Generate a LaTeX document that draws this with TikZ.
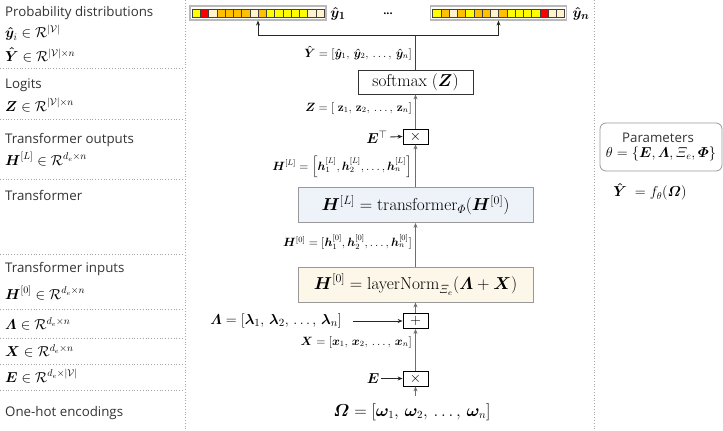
\documentclass[tikz,border=0pt]{standalone}
\usepackage{amsmath,amssymb}
\usepackage{bm}
\usepackage[no-math]{fontspec}
\setmainfont{Open Sans}
\usetikzlibrary{arrows.meta}
\definecolor{cy}{HTML}{FFFF00}
\definecolor{cr}{HTML}{FF0000}
\definecolor{cc}{HTML}{FFF2CC}
\definecolor{co}{HTML}{FFC000}
\definecolor{tbfill}{HTML}{EEF3F9}
\definecolor{lnfill}{HTML}{FDF7EA}
\definecolor{sepc}{HTML}{A6A6A6}
\definecolor{linec}{HTML}{6E6E6E}
\definecolor{txtc}{HTML}{333333}
\begin{document}
\begin{tikzpicture}[x=1pt,y=-1pt,
  lbl/.style={anchor=west, inner sep=0pt, text=txtc, font=\fontsize{13.3}{15}\selectfont},
  mlbl/.style={anchor=west, inner sep=0pt, font=\fontsize{14.5}{16}\selectfont},
  elbl/.style={anchor=east, inner sep=0pt, font=\fontsize{12}{14}\selectfont},
  sepline/.style={draw=sepc, dotted, line width=0.8pt},
  opbox/.style={draw=black, line width=0.8pt, minimum width=25pt, minimum height=15pt, inner sep=0pt, font=\fontsize{14}{14}\selectfont},
  bigbox/.style={draw=gray!80, line width=0.8pt, minimum width=235pt, minimum height=35pt, inner sep=0pt, font=\fontsize{16.5}{18}\selectfont},
  mainarr/.style={-{Stealth[length=5pt,width=4pt]}, line width=1.4pt, draw=linec},
  sidearr/.style={-{Stealth[length=5pt,width=4pt]}, line width=0.9pt, draw=black!85},
  barframe/.style={draw=gray!55, line width=1.2pt, fill=white, minimum width=136pt, minimum height=14pt, inner sep=0pt},
  cell/.style={draw=black!75, line width=0.5pt},
  bigm/.style={inner sep=0pt, font=\fontsize{16}{18}\selectfont}
]
\useasboundingbox (0,0) rectangle (723,431);
% separators
\draw[sepline] (185,0) -- (185,431);
\draw[sepline] (594,0) -- (594,431);
\foreach \yy in {68,119,179,254,309,338,364,390}
  \draw[sepline] (0,\yy) -- (183,\yy);
% left labels
\node[lbl] (l1) at (5,13) {Probability distributions};
\node[mlbl] (l2) at (5,33) {$\bm{\hat{y}}_i \in \mathcal{R}^{|\mathcal{V}|}$};
\node[mlbl] (l3) at (5,55) {$\bm{\hat{Y}} \in \mathcal{R}^{|\mathcal{V}|\times n}$};
\node[lbl] (l4) at (5,85) {Logits};
\node[mlbl] (l5) at (5,105) {$\bm{Z} \in \mathcal{R}^{|\mathcal{V}|\times n}$};
\node[lbl] (l6) at (5,140) {Transformer outputs};
\node[mlbl] (l7) at (5,159) {$\bm{H}^{[L]} \in \mathcal{R}^{d_e\times n}$};
\node[lbl] (l8) at (5,195) {Transformer};
\node[lbl] (l9) at (5,269) {Transformer inputs};
\node[mlbl] (l10) at (5,293) {$\bm{H}^{[0]} \in \mathcal{R}^{d_e\times n}$};
\node[mlbl] (l11) at (5,324) {$\bm{\varLambda} \in \mathcal{R}^{d_e\times n}$};
\node[mlbl] (l12) at (5,351) {$\bm{X} \in \mathcal{R}^{d_e\times n}$};
\node[mlbl] (l13) at (5,376) {$\bm{E} \in \mathcal{R}^{d_e\times |\mathcal{V}|}$};
\node[lbl] (l14) at (5,413) {One-hot encodings};
% probability bars
\node[barframe] (bar1) at (258,13) {};
\foreach \c [count=\i from 0] in {cy,cr,cc,co,co,co,co,cc,co,cy,cy,cy,cy,cy,cc,cc}
  \draw[cell, fill=\c] (192+\i*8.25,9) rectangle ++(8.25,8);
\node[barframe] (barn) at (498.5,13) {};
\foreach \c [count=\i from 0] in {cy,co,cc,co,cy,co,co,cc,co,cy,cy,cy,cy,cr,cc,cc}
  \draw[cell, fill=\c] (432.5+\i*8.25,9) rectangle ++(8.25,8);
\node[inner sep=0pt, font=\fontsize{15}{15}\selectfont] (y1) at (338,14) {$\bm{\hat{y}}_{\bm{1}}$};
\node[inner sep=0pt, font=\fontsize{15}{15}\selectfont] (yn) at (581,14) {$\bm{\hat{y}}_{\bm{n}}$};
\node[inner sep=0pt, font=\fontsize{11}{11}\selectfont\bfseries] (dots) at (388,14) {...};
% softmax
\node[draw=black!80, line width=0.8pt, minimum width=115pt, minimum height=24pt, inner sep=0pt, font=\fontsize{16.5}{18}\selectfont] (soft) at (415.5,82) {$\mathrm{softmax}\;(\bm{Z})$};
\coordinate (jn) at (415.5,35);
\draw[line width=1.4pt, draw=black!75] (soft.north) -- (jn);
\draw[sidearr] (jn) -| (bar1.south);
\draw[sidearr] (jn) -| (barn.south);
\node[elbl] (ylab) at (412,53) {$\bm{\hat{Y}} = [\bm{\hat{y}}_1,\, \bm{\hat{y}}_2,\, \ldots,\, \bm{\hat{y}}_n]$};
% upper times
\node[opbox] (tx1) at (415.5,136.5) {$\times$};
\draw[mainarr] (tx1.north) -- (soft.south);
\node[elbl] (zlab) at (412,108) {$\bm{Z} = [\;\mathbf{z}_1,\, \mathbf{z}_2,\, \ldots,\, \mathbf{z}_n]$};
\node[inner sep=0pt, font=\fontsize{15}{15}\selectfont] (et) at (377,137) {$\bm{E}^{\top}$};
\draw[sidearr] (et.east) ++(2pt,0) -- (tx1.west);
% transformer
\node[bigbox, fill=tbfill] (tr) at (415.5,205) {$\bm{H}^{[L]} = \mathrm{transformer}_{\varPhi}(\bm{H}^{[0]})$};
\draw[mainarr] (tr.north) -- (tx1.south);
\node[elbl] (hllab) at (412,167) {$\bm{H}^{[L]} = \left[\bm{h}_1^{[L]}, \bm{h}_2^{[L]}, \ldots, \bm{h}_n^{[L]}\right]$};
% layer norm
\node[bigbox, fill=lnfill] (ln) at (415.5,284.5) {$\bm{H}^{[0]} = \mathrm{layerNorm}_{\varXi_e}(\bm{\varLambda} + \bm{X})$};
\draw[mainarr] (ln.north) -- (tr.south);
\node[elbl] (h0lab) at (412,242) {$\bm{H}^{[0]} = [\bm{h}_1^{[0]}, \bm{h}_2^{[0]}, \ldots, \bm{h}_n^{[0]}]$};
% plus
\node[opbox] (pl) at (415.5,321) {$+$};
\draw[mainarr] (pl.north) -- (ln.south);
\node[inner sep=0pt, font=\fontsize{15}{17}\selectfont, anchor=east] (lam) at (342,321) {$\bm{\varLambda} = [\bm{\lambda}_1,\, \bm{\lambda}_2,\, \ldots,\, \bm{\lambda}_n]$};
\draw[sidearr] (lam.east) ++(11pt,0) -- (pl.west);
% lower times
\node[opbox] (tx2) at (415.5,378.5) {$\times$};
\draw[mainarr] (tx2.north) -- (pl.south);
\node[elbl] (xlab) at (412,342) {$\bm{X} = [\bm{x}_1,\, \bm{x}_2,\, \ldots,\, \bm{x}_n]$};
\node[inner sep=0pt, font=\fontsize{15}{15}\selectfont] (el) at (373,378.5) {$\bm{E}$};
\draw[sidearr] (el.east) ++(2pt,0) -- (tx2.west);
\node[bigm] (om) at (412,412) {$\bm{\varOmega} = [\bm{\omega}_1,\, \bm{\omega}_2,\, \ldots,\, \bm{\omega}_n]$};
\coordinate (omtop) at (415.5,396);
\draw[mainarr] (omtop) -- (tx2.south);
% parameters
\node[draw=gray!80, rounded corners=6pt, line width=0.8pt, minimum width=122pt, minimum height=48pt, inner sep=0pt] (par) at (661,147) {};
\node[inner sep=0pt, text=txtc, font=\fontsize{13.3}{15}\selectfont] (ptxt) at (658,138) {Parameters};
\node[inner sep=0pt, font=\fontsize{14.5}{16}\selectfont] (theta) at (661,154) {$\theta = \{\bm{E}, \bm{\varLambda}, \varXi_e, \bm{\varPhi}\}$};
\node[inner sep=0pt, font=\fontsize{14}{16}\selectfont] (fth) at (650,192) {$\bm{\hat{Y}} \;= f_\theta(\bm{\varOmega})$};
\end{tikzpicture}
\end{document}
